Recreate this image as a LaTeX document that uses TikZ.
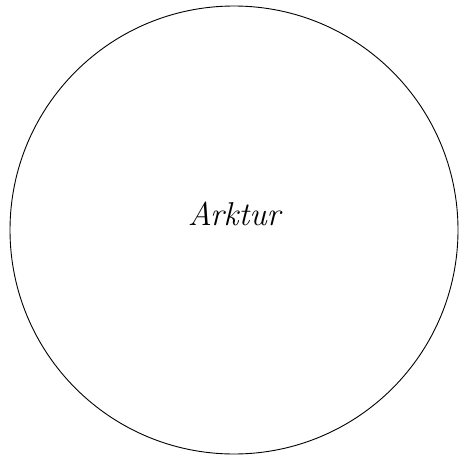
\documentclass[tikz,border=0pt]{standalone}
\usepackage{tikz}
\usetikzlibrary{positioning}

\begin{document}
\begin{tikzpicture}[
            x=1pt, y=-1pt,
            disc/.style={draw, circle, line width=0.9pt, inner sep=0pt, minimum size=448pt},
            starname/.style={font=\fontsize{33}{35}\selectfont\itshape, inner sep=0pt}
        ]
            % Frame
            \useasboundingbox (0,0) rectangle (465,457);

            % Star
            \node[disc] (star) at (234,230) {};
            \node[starname] (arktur) at (234,214) {Arktur};
        \end{tikzpicture}
\end{document}
